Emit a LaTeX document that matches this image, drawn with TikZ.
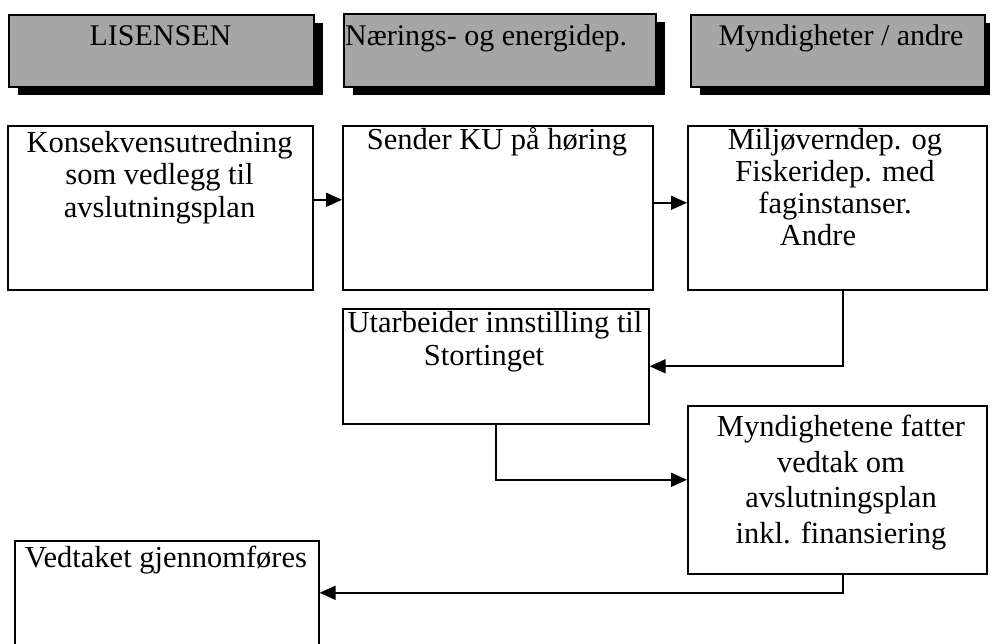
\documentclass[tikz,border=0pt]{standalone}
\usepackage{fontspec}
\setmainfont{Liberation Serif}
\usetikzlibrary{arrows.meta,shadows}
\begin{document}
\begin{tikzpicture}[x=1pt,y=-1pt,
  box/.style={draw=black, line width=1.6pt, fill=white, inner sep=0pt, anchor=north west},
  hdr/.style={draw=black, line width=1.8pt, fill=black!35, inner sep=0pt, anchor=north west,
    drop shadow={shadow xshift=9pt, shadow yshift=-8pt, fill=black, opacity=1}},
  txt/.style={font=\fontsize{30.5}{32.5}\selectfont, align=center, inner sep=0pt, anchor=north},
  one/.style={font=\fontsize{30.5}{32.5}\selectfont, inner sep=0pt, anchor=base},
  htxt/.style={font=\fontsize{30}{33}\selectfont, inner sep=0pt, anchor=base},
  arr/.style={line width=1.7pt, -{Triangle[length=16pt,width=14pt]}}
]
\useasboundingbox (0,0) rectangle (990,644);
\clip (0,0) rectangle (990,644);

% headers
\node[hdr, minimum width=305pt, minimum height=72pt] (h1) at (8,14) {};
\node[htxt] (h1t) at (160.5,46) {LISENSEN};
\node[hdr, minimum width=312pt, minimum height=73pt] (h2) at (343,13) {};
\node[htxt, anchor=base west] (h2t) at (345,46) {Nærings- og energidep.};
\node[hdr, minimum width=294pt, minimum height=72pt] (h3) at (690,14) {};
\node[htxt] (h3t) at (841,46) {Myndigheter / andre};

% boxes
\node[box, minimum width=305pt, minimum height=164pt] (A) at (7,125) {};
\node[box, minimum width=310pt, minimum height=164pt] (B) at (342,125) {};
\node[box, minimum width=299pt, minimum height=164pt] (C) at (687,125) {};
\node[box, minimum width=306pt, minimum height=115pt] (D) at (342,308) {};
\node[box, minimum width=299pt, minimum height=168pt] (E) at (687,405) {};
\node[box, minimum width=304pt, minimum height=112pt] (F) at (14,540) {};

% texts
\node[txt] (At) at (159.5,131) {Konsekvensutredning\\som vedlegg til\\avslutningsplan};
\node[one] (Bt) at (497,150) {Sender KU på høring};
\node[txt, font=\fontsize{30.5}{32}\selectfont] (Ct) at (835,128) {Miljøverndep. og\\Fiskeridep. med\\faginstanser.\\Andre\hspace*{34pt}};
\node[txt, font=\fontsize{30.5}{33}\selectfont] (Dt) at (495,311) {Utarbeider innstilling til\\Stortinget\hspace*{22pt}};
\node[txt, font=\fontsize{30.5}{35.5}\selectfont] (Et) at (841,415) {Myndighetene fatter\\vedtak om\\avslutningsplan\\inkl. finansiering};
\node[one] (Ft) at (166,567) {Vedtaket gjennomføres};

% connectors
\draw[arr] ([yshift=8pt]A.east) -- ([yshift=8pt]B.west);
\draw[arr] ([yshift=5pt]B.east) -- ([yshift=5pt]C.west);
\draw[arr] ([xshift=5.5pt]C.south) |- (D.east);
\draw[arr] (D.south) |- ([yshift=10pt]E.west);
\draw[arr] ([xshift=5.5pt]E.south) |- ([yshift=4pt]F.east);
\end{tikzpicture}
\end{document}
